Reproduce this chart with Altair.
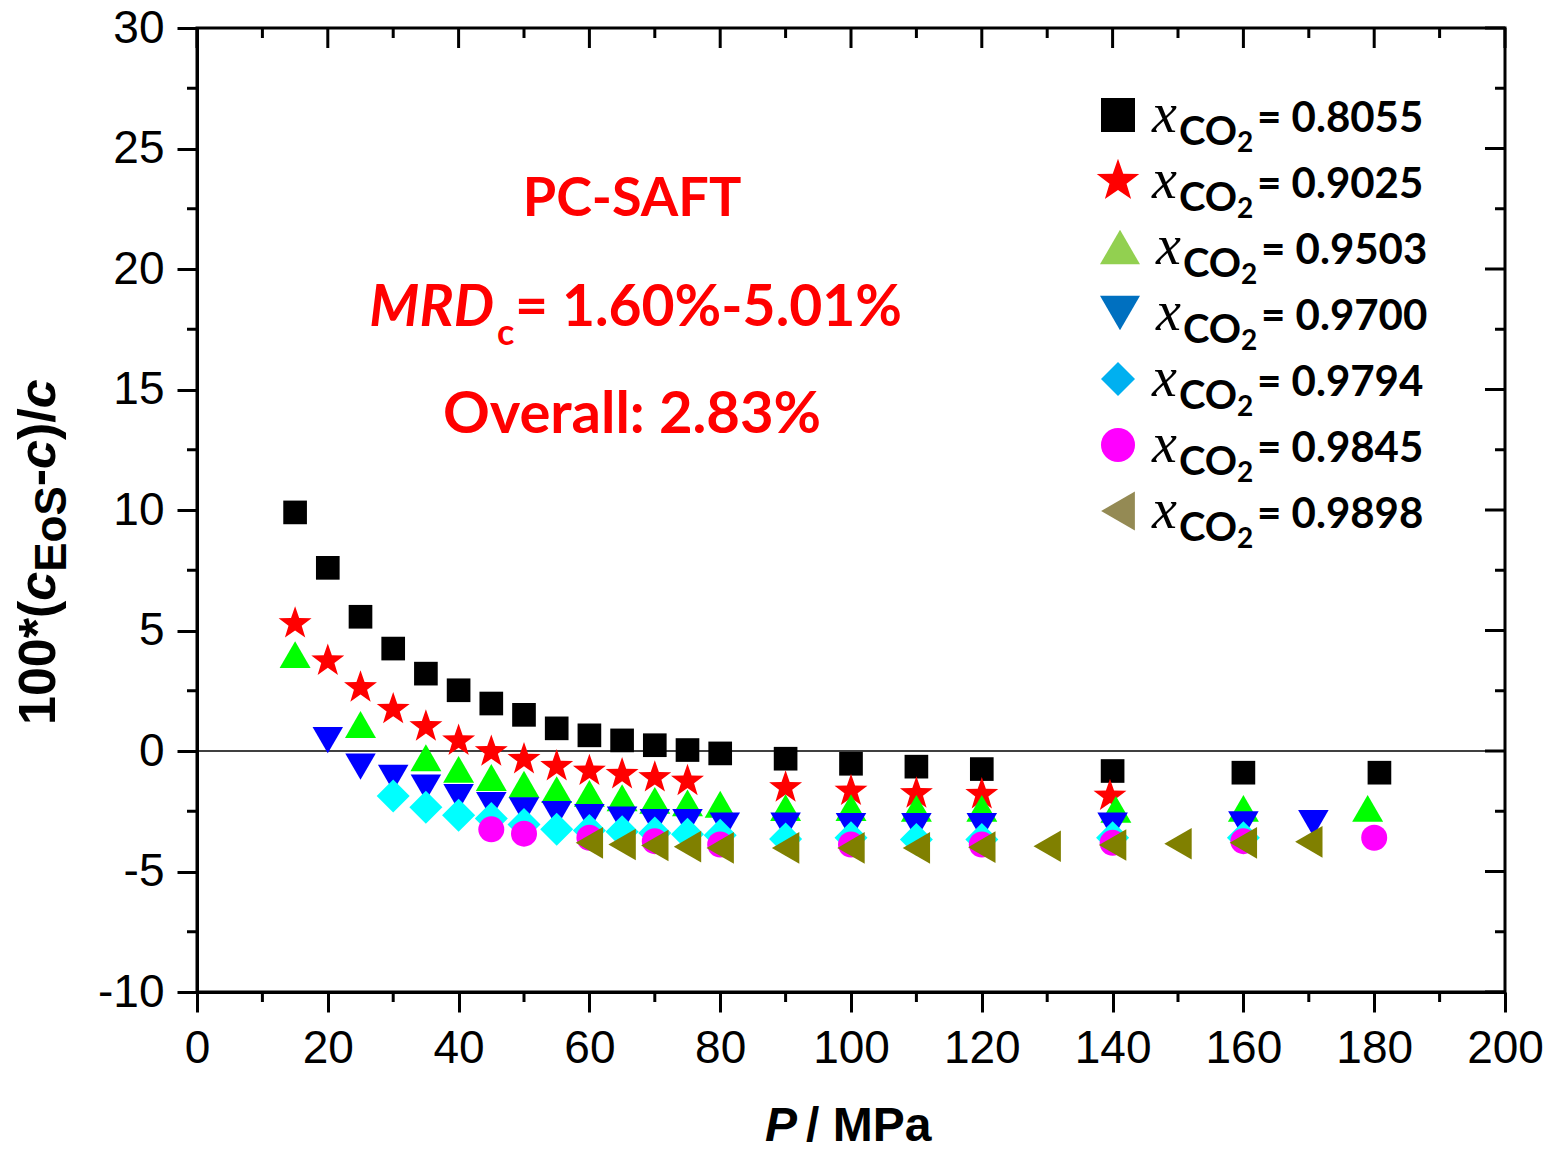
import math
import altair as alt
import pandas as pd

# ---------------- data ----------------
series_labels = ["0.8055", "0.9025", "0.9503", "0.9700", "0.9794", "0.9845", "0.9898"]

P_8055 = [15, 20, 25, 30, 35, 40, 45, 50, 55, 60, 65, 70, 75, 80, 90, 100, 110, 120, 140, 160, 180.8]
D_8055 = [9.9, 7.6, 5.57, 4.25, 3.21, 2.52, 1.97, 1.5, 0.94, 0.65, 0.44, 0.24, 0.04, -0.1,
          -0.32, -0.53, -0.65, -0.75, -0.83, -0.9, -0.9]

P_9025 = [15, 20, 25, 30, 35, 40, 45, 50, 55, 60, 65, 70, 75, 90, 100, 110, 120, 139.6]
D_9025 = [5.29, 3.74, 2.63, 1.73, 1.01, 0.42, -0.03, -0.35, -0.64, -0.83, -0.97, -1.1, -1.25,
          -1.52, -1.66, -1.77, -1.8, -1.87]

P_9503 = [15, 25, 35, 40, 45, 50, 55, 60, 65, 70, 75, 80, 90, 100, 110, 120, 140.5, 160, 179]
D_9503 = [4.0, 1.1, -0.28, -0.76, -1.1, -1.38, -1.6, -1.76, -1.94, -2.05, -2.15, -2.21,
          -2.35, -2.35, -2.38, -2.38, -2.42, -2.38, -2.38]

P_9700 = [20, 25, 30, 35, 40, 45, 50, 55, 60, 65, 70, 75, 80.7, 90, 100, 110, 120, 140, 160, 170.7]
D_9700 = [0.45, -0.65, -1.12, -1.52, -1.92, -2.25, -2.47, -2.62, -2.75, -2.85, -2.95, -2.95,
          -3.1, -3.1, -3.12, -3.12, -3.12, -3.1, -3.05, -3.0]

P_9794 = [30, 35, 40, 45, 50, 55, 60, 65, 70, 75, 80, 90, 100, 110, 120, 140, 160]
D_9794 = [-1.87, -2.33, -2.67, -2.8, -3.05, -3.25, -3.3, -3.35, -3.4, -3.45, -3.5, -3.65,
          -3.6, -3.67, -3.67, -3.6, -3.6]

P_9845 = [45, 50, 60, 70, 80, 100, 120, 140, 160, 180]
D_9845 = [-3.25, -3.43, -3.6, -3.74, -3.88, -3.88, -3.88, -3.81, -3.74, -3.6]

P_9898 = [60, 65, 70, 75, 80, 90, 100, 110, 120, 130, 140, 150, 160, 170]
D_9898 = [-3.81, -3.88, -3.92, -3.97, -4.02, -4.02, -4.02, -4.02, -3.99, -3.95, -3.9, -3.85,
          -3.81, -3.77]

x_major = [0, 20, 40, 60, 80, 100, 120, 140, 160, 180, 200]
x_minor = [10, 30, 50, 70, 90, 110, 130, 150, 170, 190]
y_major = [-10, -5, 0, 5, 10, 15, 20, 25, 30]
y_minor = [-7.5, -2.5, 2.5, 7.5, 12.5, 17.5, 22.5, 27.5]

all_P = [P_8055, P_9025, P_9503, P_9700, P_9794, P_9845, P_9898]
all_D = [D_8055, D_9025, D_9503, D_9700, D_9794, D_9845, D_9898]

# ---------------- styles ----------------
W, H = 1308, 964
star_pts = []
for k in range(10):
    ang = math.radians(-90 + 36 * k)
    r = 1.0 if k % 2 == 0 else 0.40
    star_pts.append((r * math.cos(ang), r * math.sin(ang)))
STAR = "M" + "L".join(f"{px:.4f},{py:.4f}" for px, py in star_pts) + "Z"

shapes = ["square", STAR, "triangle-up", "triangle-down", "diamond", "circle", "triangle-left"]
plot_colors = ["#000000", "#FF0000", "#00FF00", "#0000FF", "#00FFFF", "#FF00FF", "#808000"]
plot_sizes = [560, 1200, 960, 930, 1090, 676, 1000]
legend_colors = ["#000000", "#FF0000", "#92D050", "#0070C0", "#00B0F0", "#FF00FF", "#948A54"]
legend_sizes = [1156, 2000, 1600, 1600, 1160, 1160, 1520]

xscale = alt.Scale(domain=[0, 200], nice=False, zero=False)
yscale = alt.Scale(domain=[-10, 30], nice=False, zero=False)

AXX = alt.Axis(values=x_major, tickSize=20, tickWidth=3, domainWidth=3, domainColor="black",
               tickColor="black", labelFont="Liberation Sans", labelFontSize=46,
               labelColor="black", labelPadding=14, title="", grid=False,
               labelExpr="'' + datum.value", labelFlush=False, labelOverlap=False)
AXY = alt.Axis(values=y_major, tickSize=20, tickWidth=3, domainWidth=3, domainColor="black",
               tickColor="black", labelFont="Liberation Sans", labelFontSize=46,
               labelColor="black", labelPadding=13, title="", grid=False,
               labelExpr="'' + datum.value", labelFlush=False, labelOverlap=False)

one = pd.DataFrame({"a": [0]})
layers = []

# zero line
zero_df = pd.DataFrame({"y": [0]})
layers.append(alt.Chart(zero_df).mark_rule(color="black", strokeWidth=1.5).encode(
    y=alt.Y("y:Q", scale=yscale, axis=AXY), x=alt.value(0), x2=alt.value(W)))

# extra ticks (inward on top/right, minor outward on left/bottom)
def xticks(vals, y0, y1):
    return alt.Chart(pd.DataFrame({"t": vals})).mark_rule(color="black", strokeWidth=3).encode(
        x=alt.X("t:Q", scale=xscale, axis=AXX), y=alt.value(y0), y2=alt.value(y1))

def yticks(vals, x0, x1):
    return alt.Chart(pd.DataFrame({"t": vals})).mark_rule(color="black", strokeWidth=3).encode(
        y=alt.Y("t:Q", scale=yscale, axis=AXY), x=alt.value(x0), x2=alt.value(x1))

layers += [xticks(x_major, 0, 20), xticks(x_minor, 0, 10), xticks(x_minor, H, H + 10),
           yticks(y_major, W, W - 20), yticks(y_minor, W, W - 10), yticks(y_minor, 0, -10)]

# data points, one layer per series (later series drawn on top)
for i, lab in enumerate(series_labels):
    d = pd.DataFrame({"P": all_P[i], "dev": all_D[i], "series": lab})
    layers.append(alt.Chart(d).mark_point(
        filled=True, shape=shapes[i], size=plot_sizes[i], color=plot_colors[i],
        opacity=1, strokeWidth=0).encode(
        x=alt.X("P:Q", scale=xscale, axis=AXX),
        y=alt.Y("dev:Q", scale=yscale, axis=AXY)))

def txt(s, x, y, **kw):
    props = dict(align="left", baseline="alphabetic", color="black")
    props.update(kw)
    return alt.Chart(one).mark_text(text=s, **props).encode(x=alt.value(x), y=alt.value(y))

# legend (drawn by hand to reproduce the subscripted labels)
dxs = [0, 0, 4, 4, 0, 0, 0]
for i, lab in enumerate(series_labels):
    yc = 87 + 66 * i
    sx = 923 if shapes[i] in ("triangle-up", "triangle-down") else 921
    layers.append(alt.Chart(one).mark_point(
        filled=True, shape=shapes[i], size=legend_sizes[i], color=legend_colors[i],
        opacity=1, strokeWidth=0).encode(x=alt.value(sx), y=alt.value(yc)))
    dx = dxs[i]
    layers.append(txt("x", 955 + dx, yc + 17, font="Liberation Serif", fontStyle="italic",
                      fontSize=56))
    layers.append(txt("CO", 982 + dx, yc + 30, font="Lato", fontWeight="bold", fontSize=40))
    layers.append(txt("2", 1040 + dx, yc + 37, font="Lato", fontWeight="bold", fontSize=28))
    layers.append(txt("= " + lab, 1060 + dx, yc + 17, font="Lato", fontWeight="bold",
                      fontSize=42))

# annotations
RED = "#FF0000"
layers.append(txt("PC-SAFT", 435, 188, align="center", font="Lato", fontWeight="bold",
                  fontSize=54, color=RED))
layers.append(txt("MRD", 297, 298, align="right", font="Lato", fontWeight="bold",
                  fontStyle="italic", fontSize=57, color=RED))
layers.append(txt("c", 300, 317, font="Lato", fontWeight="bold", fontSize=36, color=RED))
layers.append(txt("= 1.60%-5.01%", 705, 298, align="right", font="Lato", fontWeight="bold",
                  fontSize=57, color=RED))
layers.append(txt("Overall: 2.83%", 435, 405, align="center", font="Lato", fontWeight="bold",
                  fontSize=58, color=RED))

# x-axis title
layers.append(txt("P", 568, 1113, font="Liberation Sans", fontWeight="bold",
                  fontStyle="italic", fontSize=48))
layers.append(txt("/ MPa", 609, 1113, font="Liberation Sans", fontWeight="bold", fontSize=48))

# y-axis title (rotated pieces)
bx, sbx = -142, -131
ytitle = [("100*(", 697, bx, 52, "normal"), ("c", 572.7, bx, 52, "italic"),
          ("EoS", 543.8, sbx, 44, "normal"), ("-", 458.3, bx, 52, "normal"),
          ("c", 441, bx, 52, "italic"), (")/", 412.1, bx, 52, "normal"),
          ("c", 380.3, bx, 52, "italic")]
for s, yy, xx, fs, st in ytitle:
    layers.append(txt(s, xx, yy, font="Liberation Sans", fontWeight="bold", fontStyle=st,
                      fontSize=fs, angle=270))

chart = alt.layer(*layers).properties(
    width=W, height=H,
    padding={"left": 189, "top": 20, "right": 39, "bottom": 150},
    autosize=alt.AutoSizeParams(type="none"),
    background="white",
).configure_view(stroke="black", strokeWidth=3)

chart.save("out.html", embed_options={"renderer": "svg", "actions": False})
